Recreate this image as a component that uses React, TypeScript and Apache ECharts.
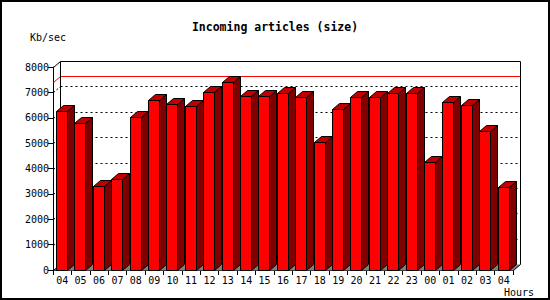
import React, { useEffect, useRef } from "react";
import * as echarts from "echarts";

const TITLE = "Incoming articles (size)";
const Y_NAME = "Kb/sec";
const X_NAME = "Hours";
const CATEGORIES = ["04", "05", "06", "07", "08", "09", "10", "11", "12", "13", "14", "15", "16", "17", "18", "19", "20", "21", "22", "23", "00", "01", "02", "03", "04"];
const VALUES = [6270, 5800, 3300, 3570, 6010, 6690, 6560, 6480, 7000, 7390, 6840, 6840, 6960, 6820, 5050, 6330, 6800, 6820, 6960, 6960, 4240, 6640, 6520, 5460, 3280];
const Y_MIN = 0;
const Y_MAX = 8000;
const Y_STEP = 1000;
const GRID_VALUES = [1000, 2000, 3000, 4000, 5000, 6000, 7000];
const MAX_LINE = 7420;

const DX = 7;
const DY = 6;
const MONO = "'DejaVu Sans Mono', 'Liberation Mono', monospace";
const c = (v: number) => Math.round(v) + 0.5;

export default function App() {
  const ref = useRef<HTMLDivElement>(null);
  useEffect(() => {
    document.body.style.margin = "0";
    if (!ref.current) return;
    const chart = echarts.init(ref.current, undefined, { renderer: "svg" });

    const frameRender = (params: any, api: any) => {
      const cs = params.coordSys;
      const xl = c(cs.x);
      const xr = c(cs.x + cs.width);
      const yTop = c(api.coord([0, Y_MAX])[1]);
      const yBot = c(api.coord([0, Y_MIN])[1]);
      const children: any[] = [];
      children.push({
        type: "polygon",
        shape: { points: [[xl, yBot], [xr, yBot], [xr + DX, yBot - DY], [xl + DX, yBot - DY]] },
        style: { fill: "#808080", stroke: null },
      });
      GRID_VALUES.forEach((v) => {
        const y = c(api.coord([0, v])[1]);
        children.push({
          type: "line",
          shape: { x1: xl + DX, y1: y - DY, x2: xr + DX, y2: y - DY },
          style: { stroke: "#000", lineWidth: 1, lineDash: [2, 3] },
        });
        children.push({
          type: "line",
          shape: { x1: xl, y1: y, x2: xl + DX, y2: y - DY },
          style: { stroke: "#000", lineWidth: 1, lineDash: [2, 2] },
        });
      });
      const ym = c(api.coord([0, MAX_LINE])[1]);
      children.push({
        type: "polyline",
        shape: { points: [[xl, ym], [xl + DX, ym - DY], [xr + DX, ym - DY]] },
        style: { stroke: "#ff0000", lineWidth: 1, fill: null },
      });
      children.push({
        type: "polyline",
        shape: { points: [[xl + DX, yBot - DY], [xl + DX, yTop - DY], [xr + DX, yTop - DY], [xr + DX, yBot - DY], [xr, yBot]] },
        style: { stroke: "#000", lineWidth: 1, fill: null },
      });
      children.push({
        type: "line",
        shape: { x1: xl, y1: yTop, x2: xl + DX, y2: yTop - DY },
        style: { stroke: "#000", lineWidth: 1 },
      });
      children.push({
        type: "line",
        shape: { x1: xl, y1: yBot, x2: xl + DX, y2: yBot - DY },
        style: { stroke: "#000", lineWidth: 1 },
      });
      return { type: "group", children };
    };

    const barRender = (params: any, api: any) => {
      const i = api.value(0);
      const v = api.value(1);
      const base = api.coord([i, 0]);
      const top = api.coord([i, v]);
      const bw = api.size([1, 0])[0];
      const L = base[0] - bw / 2;
      const x0 = c(L + bw * 0.16);
      const x1 = c(L + bw * 0.76);
      const yt = c(top[1]);
      const yb = c(base[1]);
      const stroke = { stroke: "#000", lineWidth: 1 };
      return {
        type: "group",
        children: [
          {
            type: "polygon",
            shape: { points: [[x1, yt], [x1 + DX, yt - DY], [x1 + DX, yb - DY], [x1, yb]] },
            style: { fill: "#800000", ...stroke },
          },
          {
            type: "polygon",
            shape: { points: [[x0, yt], [x0 + DX, yt - DY], [x1 + DX, yt - DY], [x1, yt]] },
            style: { fill: "#c00000", ...stroke },
          },
          {
            type: "rect",
            shape: { x: x0, y: yt, width: x1 - x0, height: yb - yt },
            style: { fill: "#ff0000", ...stroke },
          },
        ],
      };
    };

    chart.setOption({
      animation: false,
      backgroundColor: "#fff",
      title: {
        text: TITLE,
        left: "center",
        top: 16,
        textStyle: { fontFamily: MONO, fontSize: 11.5, fontWeight: "bold", color: "#000" },
      },
      grid: { left: 53, right: 37, top: 67, bottom: 30, containLabel: false },
      xAxis: {
        type: "category",
        data: CATEGORIES,
        boundaryGap: true,
        axisLine: { show: true, lineStyle: { color: "#000", width: 1 } },
        axisTick: { show: true, interval: 0, length: 5, alignWithLabel: false, lineStyle: { color: "#000" } },
        axisLabel: { interval: 0, margin: 5, color: "#000", fontFamily: MONO, fontSize: 10 },
        splitLine: { show: false },
      },
      yAxis: {
        type: "value",
        min: Y_MIN,
        max: Y_MAX,
        interval: Y_STEP,
        axisLine: { show: true, lineStyle: { color: "#000", width: 1 } },
        axisTick: { show: true, length: 5, lineStyle: { color: "#000" } },
        axisLabel: { margin: 4, color: "#000", fontFamily: MONO, fontSize: 10, formatter: (v: number) => String(v) },
        splitLine: { show: false },
      },
      graphic: [
        {
          type: "rect",
          shape: { x: 1, y: 1, width: 548, height: 298 },
          style: { fill: "none", stroke: "#000", lineWidth: 2 },
          silent: true,
        },
        {
          type: "text",
          x: 30,
          y: 37,
          style: { text: Y_NAME, fontFamily: MONO, fontSize: 10, fill: "#000", align: "left", verticalAlign: "middle" },
        },
        {
          type: "text",
          x: 504,
          y: 292,
          style: { text: X_NAME, fontFamily: MONO, fontSize: 10, fill: "#000", align: "left", verticalAlign: "middle" },
        },
      ],
      series: [
        {
          type: "custom",
          name: "frame",
          z: 1,
          silent: true,
          renderItem: frameRender,
          data: [[0, 0]],
          encode: { x: 0, y: 1 },
        },
        {
          type: "custom",
          name: "size",
          z: 2,
          renderItem: barRender,
          data: CATEGORIES.map((_, i) => [i, VALUES[i]]),
          encode: { x: 0, y: 1 },
        },
      ],
    });
    return () => chart.dispose();
  }, []);
  return <div ref={ref} style={{ width: 550, height: 300 }} />;
}
